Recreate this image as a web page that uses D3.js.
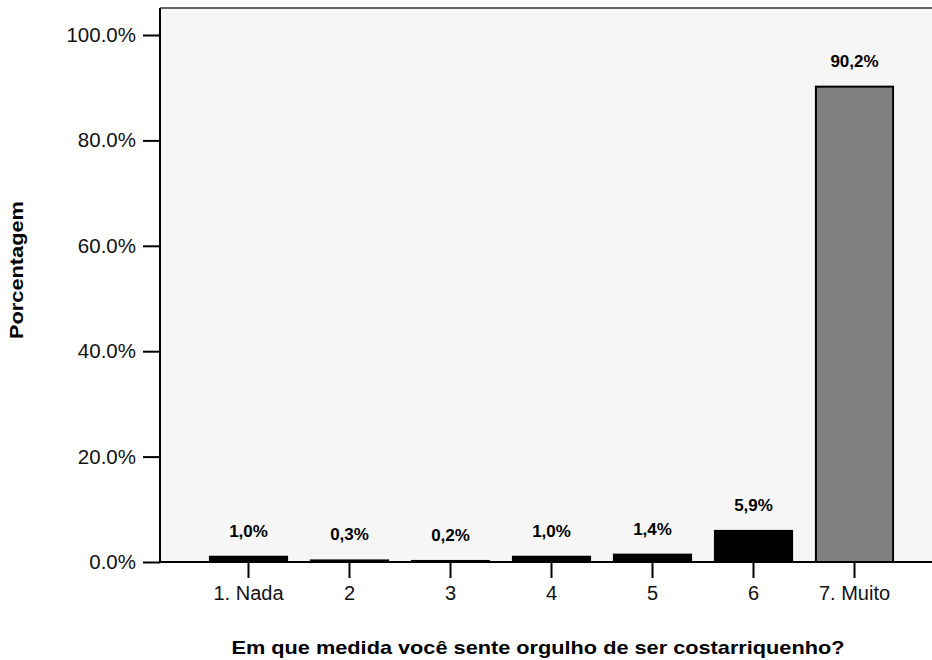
<!DOCTYPE html>
<html>
  <head>
    <script src="https://d3js.org/d3.v7.min.js"></script>
    <style>
      body { margin: 0; background: #fff; }
      .tick text { font-family: "Liberation Sans", Arial, sans-serif; }
    </style>
  </head>
  <body>
    <svg id="chart" width="932" height="660"></svg>
    <script>
      // data
      const categories = ["1. Nada", "2", "3", "4", "5", "6", "7. Muito"];
      const values = [1.0, 0.3, 0.2, 1.0, 1.4, 5.9, 90.2];
      const valueLabels = ["1,0%", "0,3%", "0,2%", "1,0%", "1,4%", "5,9%", "90,2%"];
      const yTicks = [0, 20, 40, 60, 80, 100];

      const svg = d3.select("#chart");
      const plotLeft = 160, plotTop = 8, plotRight = 932, plotBottom = 562;

      // plot background
      svg.append("rect")
        .attr("x", plotLeft).attr("y", plotTop)
        .attr("width", plotRight - plotLeft).attr("height", plotBottom - plotTop)
        .attr("fill", "#f6f6f6");

      const x = d3.scaleBand()
        .domain(categories)
        .range([198, 905])
        .paddingInner(0.236)
        .paddingOuter(0.118);

      const y = d3.scaleLinear()
        .domain([0, 100])
        .range([plotBottom, 35]);

      // bars
      svg.selectAll("rect.bar")
        .data(values)
        .join("rect")
          .attr("class", "bar")
          .attr("x", (d, i) => x(categories[i]))
          .attr("y", d => y(d))
          .attr("width", x.bandwidth())
          .attr("height", d => plotBottom - y(d))
          .attr("fill", (d, i) => i === 6 ? "#808080" : "#000")
          .attr("stroke", "#000")
          .attr("stroke-width", 2);

      // value labels above bars
      svg.selectAll("text.val")
        .data(values)
        .join("text")
          .attr("class", "val")
          .attr("x", (d, i) => x(categories[i]) + x.bandwidth() / 2)
          .attr("y", d => y(d) - 20)
          .attr("text-anchor", "middle")
          .style("font-family", "'Liberation Sans', Arial, sans-serif")
          .style("font-weight", "bold")
          .style("font-size", "17px")
          .text((d, i) => valueLabels[i]);

      // y axis
      const yAxis = svg.append("g")
        .attr("transform", `translate(${plotLeft},0)`)
        .call(d3.axisLeft(y).tickValues(yTicks).tickSize(17).tickPadding(7)
          .tickFormat(d => d.toFixed(1) + "%"));
      yAxis.select(".domain").remove();
      yAxis.selectAll(".tick line").attr("stroke", "#000").attr("stroke-width", 2);
      yAxis.selectAll(".tick text").style("font-size", "20.5px").attr("fill", "#111");

      // x axis
      const xAxis = svg.append("g")
        .attr("transform", `translate(0,${plotBottom})`)
        .call(d3.axisBottom(x).tickSize(16).tickPadding(8));
      xAxis.select(".domain").remove();
      xAxis.selectAll(".tick line").attr("stroke", "#000").attr("stroke-width", 2);
      xAxis.selectAll(".tick text").style("font-size", "20px").attr("fill", "#111");

      // frame lines
      svg.append("line")
        .attr("x1", plotLeft).attr("x2", plotRight)
        .attr("y1", plotTop).attr("y2", plotTop)
        .attr("stroke", "#333").attr("stroke-width", 1.5);
      svg.append("line")
        .attr("x1", plotLeft).attr("x2", plotLeft)
        .attr("y1", plotTop).attr("y2", plotBottom)
        .attr("stroke", "#000").attr("stroke-width", 2);
      svg.append("line")
        .attr("x1", plotLeft).attr("x2", plotRight)
        .attr("y1", plotBottom).attr("y2", plotBottom)
        .attr("stroke", "#000").attr("stroke-width", 2);

      // axis titles
      svg.append("text")
        .attr("x", 538).attr("y", 654)
        .attr("text-anchor", "middle")
        .attr("textLength", 613)
        .attr("lengthAdjust", "spacingAndGlyphs")
        .style("font-family", "'Liberation Sans', Arial, sans-serif")
        .style("font-weight", "bold")
        .style("font-size", "19px")
        .text("Em que medida você sente orgulho de ser costarriquenho?");

      svg.append("text")
        .attr("transform", "translate(23,270) rotate(-90)")
        .attr("text-anchor", "middle")
        .attr("textLength", 138)
        .attr("lengthAdjust", "spacingAndGlyphs")
        .style("font-family", "'Liberation Sans', Arial, sans-serif")
        .style("font-weight", "bold")
        .style("font-size", "18px")
        .text("Porcentagem");
    </script>
  </body>
</html>
